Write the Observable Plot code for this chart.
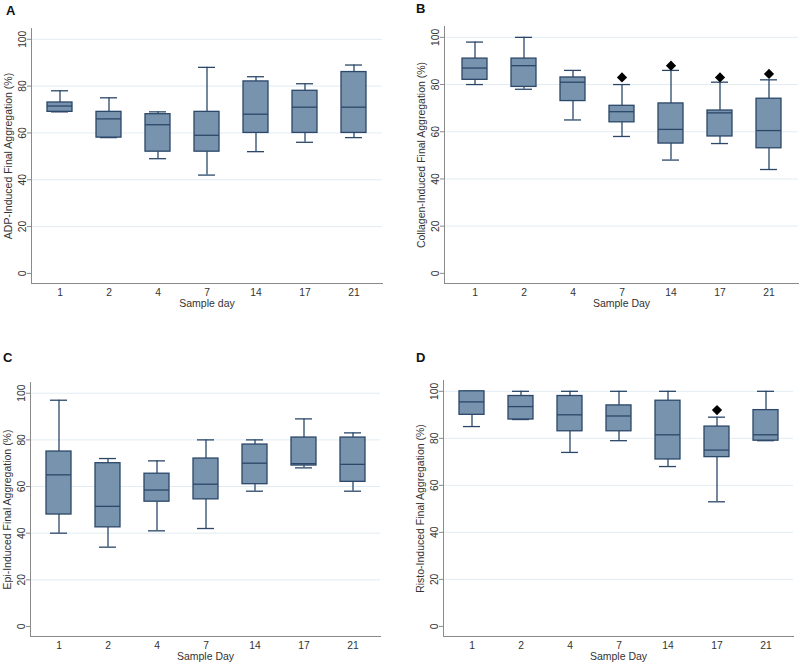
<!DOCTYPE html>
<html>
<head>
<meta charset="utf-8">
<script src="https://cdn.jsdelivr.net/npm/d3@7"></script>
<script src="https://cdn.jsdelivr.net/npm/@observablehq/plot@0.6"></script>
<style>
  html, body { margin: 0; padding: 0; background: #fff; }
  #fig { position: relative; width: 800px; height: 664px; overflow: hidden; font-family: "Liberation Sans", Arial, sans-serif; }
  .panel { position: absolute; }
  .letter { position: absolute; font-weight: bold; font-size: 13px; color: #111; font-family: "Liberation Sans", Arial, sans-serif; }
</style>
</head>
<body>
<div id="fig"></div>
<script>
// ---- data ----
const days = ["1", "2", "4", "7", "14", "17", "21"];
const yTicks = [0, 20, 40, 60, 80, 100];
const gridTicks = [20, 40, 60, 80, 100];

// Panel A: ADP
const adpLow  = [69, 58, 49, 42, 52, 56, 58];
const adpQ1   = [69, 58, 52, 52, 60, 60, 60];
const adpMed  = [71.5, 66, 63.5, 59, 68, 71, 71];
const adpQ3   = [73, 69, 68, 69, 82, 78, 86];
const adpHigh = [78, 75, 69, 88, 84, 81, 89];
const adpOutDays = [];
const adpOutVals = [];

// Panel B: Collagen
const colLow  = [80, 78, 65, 58, 48, 55, 44];
const colQ1   = [82, 79, 73, 64, 55, 58, 53];
const colMed  = [87, 88, 81, 68.5, 61, 68, 60.5];
const colQ3   = [91, 91, 83, 71, 72, 69, 74];
const colHigh = [98, 100, 86, 80, 86, 81, 82];
const colOutDays = ["7", "14", "17", "21"];
const colOutVals = [83, 88, 83, 84.5];

// Panel C: Epi
const epiLow  = [40, 34, 41, 42, 58, 68, 58];
const epiQ1   = [48, 42.5, 53.5, 54.5, 61, 69, 62];
const epiMed  = [65, 51.5, 58.5, 61, 70, 69.8, 69.5];
const epiQ3   = [75, 70, 65.5, 72, 78, 81, 81];
const epiHigh = [97, 72, 71, 80, 80, 89, 83];
const epiOutDays = [];
const epiOutVals = [];

// Panel D: Risto
const risLow  = [85, 88, 74, 79, 68, 53, 79];
const risQ1   = [90, 88, 83, 83, 71, 72, 79];
const risMed  = [95.5, 93.5, 90, 89.5, 81.5, 75, 81.5];
const risQ3   = [100, 98, 98, 94, 96, 85, 92];
const risHigh = [100, 100, 100, 100, 100, 89, 100];
const risOutDays = ["17"];
const risOutVals = [92];

const panels = [
  {letter: "A", yLabel: "ADP-Induced Final Aggregation (%)", xLabel: "Sample day",
   low: adpLow, q1: adpQ1, med: adpMed, q3: adpQ3, high: adpHigh, outDays: adpOutDays, outVals: adpOutVals,
   L: 0, T: 0, W: 400, H: 320, ML: 31, MT: 28, MB: 37, MR: 18, lx: 6, ly: 3},
  {letter: "B", yLabel: "Collagen-Induced Final Aggregation (%)", xLabel: "Sample Day",
   low: colLow, q1: colQ1, med: colMed, q3: colQ3, high: colHigh, outDays: colOutDays, outVals: colOutVals,
   L: 400, T: 0, W: 400, H: 320, ML: 44, MT: 26, MB: 37, MR: 2, lx: 416, ly: 1},
  {letter: "C", yLabel: "Epi-Induced Final Aggregation (%)", xLabel: "Sample Day",
   low: epiLow, q1: epiQ1, med: epiMed, q3: epiQ3, high: epiHigh, outDays: epiOutDays, outVals: epiOutVals,
   L: 0, T: 355, W: 400, H: 309, ML: 30, MT: 27, MB: 28, MR: 20, lx: 3, ly: 350},
  {letter: "D", yLabel: "Risto-Induced Final Aggregation (%)", xLabel: "Sample Day",
   low: risLow, q1: risQ1, med: risMed, q3: risQ3, high: risHigh, outDays: risOutDays, outVals: risOutVals,
   L: 400, T: 355, W: 400, H: 309, ML: 43, MT: 25, MB: 28, MR: 7, lx: 416, ly: 350}
];

const navy = "#2b4769";
const boxFill = "#7893ad";
const axisGray = "#8a8a8a";
const gridColor = "#e1ecf2";
const textColor = "#333";
const sw = 1.3;

const fig = document.getElementById("fig");

for (const p of panels) {
  const rows = days.map((d, i) => ({day: d, low: p.low[i], q1: p.q1[i], med: p.med[i], q3: p.q3[i], high: p.high[i]}));
  const outs = p.outDays.map((d, i) => ({day: d, v: p.outVals[i]}));

  const chart = Plot.plot({
    width: p.W, height: p.H,
    marginLeft: p.ML, marginTop: p.MT, marginBottom: p.MB, marginRight: p.MR,
    style: {fontFamily: "'Liberation Sans', Arial, sans-serif", fontSize: "10.3px", color: textColor, background: "transparent", overflow: "visible"},
    x: {type: "band", domain: days, paddingInner: 0.49, paddingOuter: 0.3, label: null},
    y: {domain: [-4.3, 104.6], label: null},
    marks: [
      Plot.gridY(gridTicks, {stroke: gridColor, strokeOpacity: 1, strokeWidth: 1}),
      Plot.ruleX(rows, {x: "day", y1: "low", y2: "q1", stroke: navy, strokeWidth: sw}),
      Plot.ruleX(rows, {x: "day", y1: "q3", y2: "high", stroke: navy, strokeWidth: sw}),
      Plot.tickY(rows, {x: "day", y: "low", stroke: navy, strokeWidth: sw, insetLeft: 4, insetRight: 4}),
      Plot.tickY(rows, {x: "day", y: "high", stroke: navy, strokeWidth: sw, insetLeft: 4, insetRight: 4}),
      Plot.barY(rows, {x: "day", y1: "q1", y2: "q3", fill: boxFill, stroke: navy, strokeWidth: sw}),
      Plot.tickY(rows, {x: "day", y: "med", stroke: navy, strokeWidth: sw}),
      Plot.dot(outs, {x: "day", y: "v", symbol: "diamond2", fill: "#000", stroke: "none", r: 4.6}),
      Plot.frame({anchor: "left", stroke: axisGray}),
      Plot.frame({anchor: "bottom", stroke: axisGray}),
      Plot.axisY({ticks: yTicks, tickSize: 4, tickPadding: 2, tickRotate: -90, label: null, stroke: axisGray, fill: textColor}),
      Plot.axisX({tickSize: 0, tickPadding: 5, label: null, fill: textColor}),
      Plot.text([p.xLabel], {text: d => d, frameAnchor: "bottom", lineAnchor: "middle", dy: 20, fill: textColor, fontSize: 10.5}),
      Plot.text([p.yLabel], {text: d => d, frameAnchor: "left", textAnchor: "middle", lineAnchor: "middle", rotate: -90, dx: -22.5, fill: textColor, fontSize: 10.5})
    ]
  });
  chart.classList.add("panel");
  chart.style.left = p.L + "px";
  chart.style.top = p.T + "px";
  fig.appendChild(chart);

  const lab = document.createElement("div");
  lab.className = "letter";
  lab.textContent = p.letter;
  lab.style.left = p.lx + "px";
  lab.style.top = p.ly + "px";
  fig.appendChild(lab);
}
</script>
</body>
</html>
